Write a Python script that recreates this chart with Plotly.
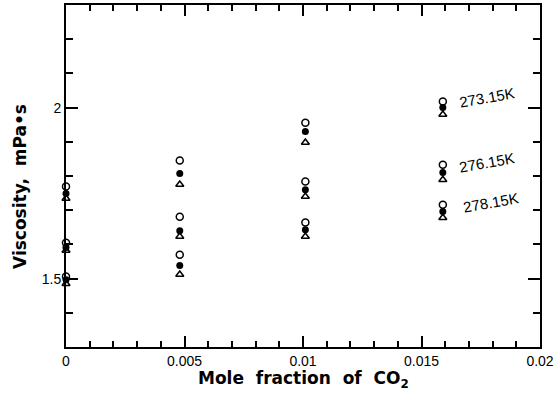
import plotly.graph_objects as go

# Mole fraction of CO2
x_vals = [0.0, 0.0048, 0.0101, 0.0159]
temperatures = ["273.15K", "276.15K", "278.15K"]

# Viscosity (mPa·s) per temperature at each x; three data sets (open circle, filled circle, triangle)
open_circle = {
    "273.15K": [1.769, 1.845, 1.956, 2.018],
    "276.15K": [1.605, 1.681, 1.784, 1.833],
    "278.15K": [1.506, 1.570, 1.664, 1.716],
}
filled_circle = {
    "273.15K": [1.749, 1.807, 1.930, 2.000],
    "276.15K": [1.591, 1.640, 1.760, 1.810],
    "278.15K": [1.497, 1.538, 1.643, 1.696],
}
triangle = {
    "273.15K": [1.734, 1.775, 1.898, 1.980],
    "276.15K": [1.582, 1.623, 1.740, 1.789],
    "278.15K": [1.485, 1.512, 1.623, 1.678],
}

# Label anchors (data coordinates)
label_x = [0.01776, 0.01776, 0.01793]
label_y = [2.030, 1.839, 1.722]

FONT = "Liberation Sans, Arial, sans-serif"
TITLE_FONT = "DejaVu Sans, Liberation Sans, sans-serif"
TICK_COLOR = "rgb(0,0,0)"

fig = go.Figure()

def add_set(data, symbol, width):
    xs, ys = [], []
    for t in temperatures:
        xs += x_vals
        ys += data[t]
    fig.add_trace(go.Scatter(
        x=xs, y=ys, mode="markers", showlegend=False, cliponaxis=False,
        marker=dict(symbol=symbol, size=7, color="black",
                    line=dict(color="black", width=width)),
    ))

add_set(triangle, "triangle-up-open", 1.5)
add_set(filled_circle, "circle", 0)
add_set(open_circle, "circle-open", 1.5)

for t, lx, ly in zip(temperatures, label_x, label_y):
    fig.add_annotation(x=lx, y=ly, text=t, showarrow=False, textangle=-10,
                       font=dict(family=FONT, size=15, color="black"))

# axis titles
fig.add_annotation(xref="paper", yref="paper", x=0.5, y=-0.0936, xanchor="center", yanchor="middle",
                   text="<b>Mole  fraction  of  CO<sub>2</sub></b>", showarrow=False,
                   font=dict(family=TITLE_FONT, size=17, color="black"))
fig.add_annotation(xref="paper", yref="paper", x=-0.097, y=0.468, xanchor="center", yanchor="middle",
                   text="<b>Viscosity,  mPa•s</b>", showarrow=False, textangle=-90,
                   font=dict(family=TITLE_FONT, size=17, color="black"))

common = dict(showline=True, linecolor="black", linewidth=2, mirror="ticks",
              ticks="inside", tickwidth=2,
              showgrid=False, zeroline=False, automargin=False)

fig.update_layout(
    width=556, height=395,
    margin=dict(l=66, r=16, t=5, b=48),
    paper_bgcolor="white", plot_bgcolor="white",
    xaxis=dict(range=[0, 0.02], dtick=0.005, tick0=0, ticklen=11, tickcolor=TICK_COLOR,
               tickfont=dict(family=FONT, size=14, color="black"),
               minor=dict(dtick=0.001, ticklen=6, tickcolor=TICK_COLOR, tickwidth=2, ticks="inside"),
               **common),
    yaxis=dict(range=[1.3, 2.3], dtick=0.5, tick0=0, ticklen=12, tickcolor=TICK_COLOR,
               tickfont=dict(family=FONT, size=14, color="black"),
               minor=dict(dtick=0.1, ticklen=7, tickcolor=TICK_COLOR, tickwidth=2, ticks="inside"),
               **common),
)

fig.write_html("out.html", post_script="document.body.style.margin='0';",
               config={"displayModeBar": False})
